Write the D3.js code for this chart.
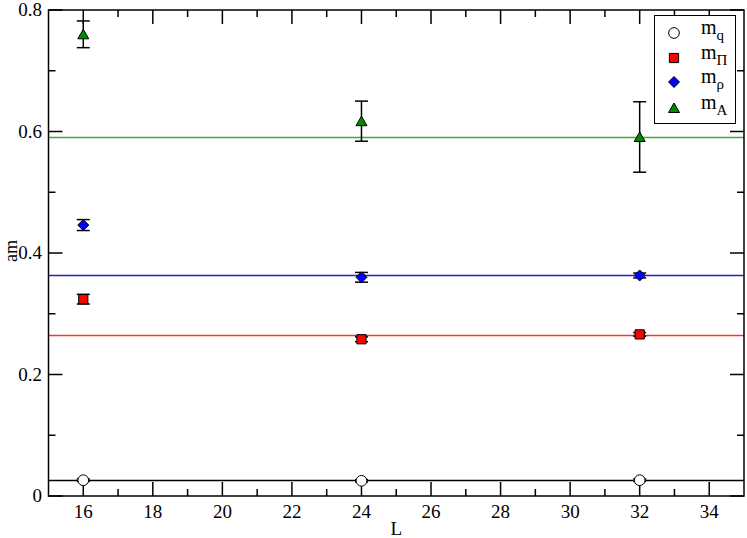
<!DOCTYPE html>
<html>
<head>
<meta charset="utf-8">
<script src="https://cdn.jsdelivr.net/npm/d3@7"></script>
<style>
  body { margin: 0; background: #fff; }
  text { font-family: "Liberation Serif", "Times New Roman", serif; }
</style>
</head>
<body>
<div id="chart"></div>
<script>
// data
var L = [16, 24, 32];
var mq = [0.026, 0.025, 0.026];
var mqErr = [0.002, 0.002, 0.002];
var mPi = [0.324, 0.258, 0.266];
var mPiErr = [0.008, 0.004, 0.003];
var mRho = [0.446, 0.360, 0.363];
var mRhoErr = [0.009, 0.008, 0.004];
var mA = [0.760, 0.617, 0.591];
var mAErr = [0.022, 0.033, 0.058];
var fits = [0.026, 0.265, 0.364, 0.591];
var xTicks = [16, 18, 20, 22, 24, 26, 28, 30, 32, 34];
var yTicks = [0, 0.2, 0.4, 0.6, 0.8];

var W = 747, H = 538;
var pL = 48.5, pR = 744, pT = 10, pB = 496;

var svg = d3.select("#chart").append("svg")
  .attr("width", W).attr("height", H);

var x = d3.scaleLinear().domain([15, 35]).range([pL, pR]);
var y = d3.scaleLinear().domain([0, 0.8]).range([pB, pT]);

// series config
var series = [
  {name: "q", vals: mq, err: mqErr, fill: "none", stroke: "#000", line: "#000", sym: "circle"},
  {name: "Π", vals: mPi, err: mPiErr, fill: "#ff0000", stroke: "#000", line: "#ff3030", sym: "square"},
  {name: "ρ", vals: mRho, err: mRhoErr, fill: "#0000ff", stroke: "#000", line: "#2020d0", sym: "diamond"},
  {name: "A", vals: mA, err: mAErr, fill: "#008b00", stroke: "#000", line: "#40a840", sym: "triangle"}
];

function symPath(kind) {
  if (kind == "circle") return d3.symbol().type(d3.symbolCircle).size(90)();
  if (kind == "square") return d3.symbol().type(d3.symbolSquare).size(85)();
  if (kind == "diamond") return "M0,-5.5L5.5,0L0,5.5L-5.5,0Z";
  return "M0,-5L5.5,4.5L-5.5,4.5Z";
}

// fit lines
series.forEach(function(s, i) {
  svg.append("line")
    .attr("x1", pL).attr("x2", pR)
    .attr("y1", Math.round(y(fits[i])) + 0.5).attr("y2", Math.round(y(fits[i])) + 0.5)
    .attr("stroke", s.line).attr("stroke-width", 1.5);
});

// frame + ticks
var g = svg.append("g");
g.append("rect").attr("x", pL).attr("y", pT)
  .attr("width", pR - pL).attr("height", pB - pT)
  .attr("fill", "none").attr("stroke", "#000").attr("stroke-width", 1.5);

var xMinor = [17, 19, 21, 23, 25, 27, 29, 31, 33];
var yMinor = [0.1, 0.3, 0.5, 0.7];

function tick(x1, y1, x2, y2) {
  g.append("line").attr("x1", x1).attr("x2", x2).attr("y1", y1).attr("y2", y2)
    .attr("stroke", "#000").attr("stroke-width", 1.5);
}

xTicks.forEach(function(v) {
  tick(x(v), pB, x(v), pB - 14);
  tick(x(v), pT, x(v), pT + 14);
  g.append("text").attr("x", x(v)).attr("y", 518).attr("text-anchor", "middle")
    .attr("font-size", 19).text(v);
});
xMinor.forEach(function(v) {
  tick(x(v), pB, x(v), pB - 7);
  tick(x(v), pT, x(v), pT + 7);
});
yTicks.forEach(function(v) {
  tick(pL, y(v), pL + 14, y(v));
  tick(pR, y(v), pR - 14, y(v));
  g.append("text").attr("x", 42).attr("y", y(v) + 6).attr("text-anchor", "end")
    .attr("font-size", 19).text(v == 0 ? "0" : d3.format(".1f")(v));
});
yMinor.forEach(function(v) {
  tick(pL, y(v), pL + 7, y(v));
  tick(pR, y(v), pR - 7, y(v));
});

// axis titles
svg.append("text").attr("x", (pL + pR) / 2).attr("y", 535).attr("text-anchor", "middle")
  .attr("font-size", 19).text("L");
svg.append("text").attr("transform", "translate(16.5,251) rotate(-90)")
  .attr("text-anchor", "middle").attr("font-size", 18).text("am");

// error bars + markers
series.forEach(function(s) {
  var pts = svg.append("g").selectAll("g").data(L).enter().append("g");
  pts.append("line")
    .attr("x1", function(d) { return x(d); }).attr("x2", function(d) { return x(d); })
    .attr("y1", function(d, i) { return y(s.vals[i] + s.err[i]); })
    .attr("y2", function(d, i) { return y(s.vals[i] - s.err[i]); })
    .attr("stroke", "#000").attr("stroke-width", 1.5);
  [1, -1].forEach(function(sg) {
    pts.append("line")
      .attr("x1", function(d) { return x(d) - 6.5; }).attr("x2", function(d) { return x(d) + 6.5; })
      .attr("y1", function(d, i) { return y(s.vals[i] + sg * s.err[i]); })
      .attr("y2", function(d, i) { return y(s.vals[i] + sg * s.err[i]); })
      .attr("stroke", "#000").attr("stroke-width", 1.5);
  });
  pts.append("path")
    .attr("d", symPath(s.sym))
    .attr("transform", function(d, i) { return "translate(" + x(d) + "," + y(s.vals[i]) + ")"; })
    .attr("fill", s.sym == "circle" ? "#fff" : s.fill)
    .attr("stroke", s.stroke).attr("stroke-width", 1);
});

// legend
var lg = svg.append("g");
lg.append("rect").attr("x", 654.5).attr("y", 15.5).attr("width", 81).attr("height", 108)
  .attr("fill", "#fff").attr("stroke", "#000").attr("stroke-width", 1);
var lgY = [33, 58, 82, 108];
series.forEach(function(s, i) {
  lg.append("path").attr("d", symPath(s.sym))
    .attr("transform", "translate(674," + lgY[i] + ")")
    .attr("fill", s.sym == "circle" ? "#fff" : s.fill)
    .attr("stroke", s.stroke).attr("stroke-width", 1);
  var t = lg.append("text").attr("x", 701).attr("y", lgY[i] + 1).attr("font-size", 20);
  t.append("tspan").text("m");
  t.append("tspan").attr("dy", 6).attr("font-size", 15).text(s.name);
});
</script>
</body>
</html>
